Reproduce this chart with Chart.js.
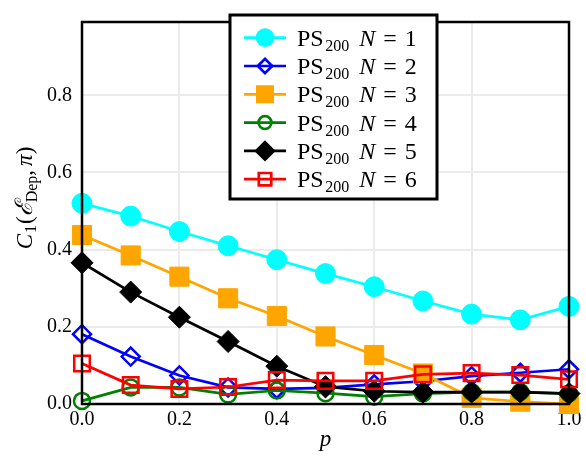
<!DOCTYPE html>
<html>
<head>
<meta charset="utf-8">
<script src="https://cdn.jsdelivr.net/npm/chart.js@4.4.0/dist/chart.umd.min.js"></script>
<style>
  body { margin: 0; background: #fff; }
  #wrap { width: 586px; height: 456px; }
</style>
</head>
<body>
<div id="wrap"><canvas id="chart" width="586" height="456"></canvas></div>
<script>
// values
const pValues = [0.0, 0.1, 0.2, 0.3, 0.4, 0.5, 0.6, 0.7, 0.8, 0.9, 1.0];
const n1 = [0.520, 0.487, 0.447, 0.410, 0.374, 0.338, 0.304, 0.267, 0.233, 0.218, 0.253];
const n2 = [0.181, 0.123, 0.074, 0.043, 0.039, 0.042, 0.051, 0.059, 0.072, 0.081, 0.090];
const n3 = [0.438, 0.385, 0.330, 0.274, 0.228, 0.175, 0.127, 0.079, 0.016, 0.006, 0.000];
const n4 = [0.008, 0.043, 0.043, 0.025, 0.035, 0.028, 0.019, 0.027, 0.031, 0.031, 0.027];
const n5 = [0.366, 0.290, 0.225, 0.162, 0.098, 0.045, 0.033, 0.031, 0.031, 0.031, 0.027];
const n6 = [0.105, 0.049, 0.039, 0.044, 0.062, 0.060, 0.060, 0.077, 0.080, 0.075, 0.064];
const seriesNames = ["1", "2", "3", "4", "5", "6"];
const xTicks = [0, 0.2, 0.4, 0.6, 0.8, 1.0];
const yTicks = [0, 0.2, 0.4, 0.6, 0.8];

const SERIF = '"Liberation Serif", "DejaVu Serif", serif';

// marker look per series
const styles = [
  { color: "#00ffff", point: "circle", radius: 10, fill: true },
  { color: "#0000ff", point: "rectRot", radius: 9, fill: false },
  { color: "#ffa500", point: "rect", radius: 13.5, fill: true },
  { color: "#008000", point: "circle", radius: 8, fill: false },
  { color: "#000000", point: "rectRot", radius: 11, fill: true },
  { color: "#ff0000", point: "rect", radius: 11, fill: false }
];

const allSeries = [n1, n2, n3, n4, n5, n6];

function makeDataset(values, i) {
  let s = styles[i];
  return {
    label: "PS200 N = " + seriesNames[i],
    data: values.map((v, k) => ({ x: pValues[k], y: v })),
    borderColor: s.color,
    borderWidth: 2.7,
    pointStyle: s.point,
    pointRadius: s.radius,
    pointHoverRadius: s.radius,
    pointBackgroundColor: s.fill ? s.color : "rgba(0,0,0,0)",
    pointBorderColor: s.color,
    pointBorderWidth: s.fill ? 1 : 2.5,
    fill: false,
    tension: 0,
    clip: false,
    order: 5 - i
  };
}

// draw a run of text pieces: [text, font, baselineShift, extraGap]
function drawRun(ctx, pieces, x, y) {
  let cx = x;
  for (let p of pieces) {
    ctx.font = p[1];
    ctx.fillText(p[0], cx, y + (p[2] || 0));
    cx += ctx.measureText(p[0]).width + (p[3] || 0);
  }
  return cx;
}

function runWidth(ctx, pieces) {
  let w = 0;
  for (let p of pieces) {
    ctx.font = p[1];
    w += ctx.measureText(p[0]).width + (p[3] || 0);
  }
  return w;
}

const decorPlugin = {
  id: "decor",
  afterDatasetsDraw(chart) {
    let ctx = chart.ctx;
    let a = chart.chartArea;
    ctx.save();

    // frame around the plot
    ctx.strokeStyle = "#000";
    ctx.lineWidth = 2.5;
    ctx.strokeRect(a.left, a.top, a.right - a.left, a.bottom - a.top);

    // legend box
    let bx = 230, by = 15, bw = 207, bh = 184;
    ctx.fillStyle = "#fff";
    ctx.fillRect(bx, by, bw, bh);
    ctx.lineWidth = 3;
    ctx.strokeStyle = "#000";
    ctx.strokeRect(bx, by, bw, bh);

    ctx.textAlign = "left";
    ctx.textBaseline = "alphabetic";
    for (let i = 0; i < styles.length; i++) {
      let s = styles[i];
      let cy = 37.7 + i * 28.3;
      ctx.strokeStyle = s.color;
      ctx.lineWidth = 2.7;
      ctx.beginPath();
      ctx.moveTo(244, cy);
      ctx.lineTo(286, cy);
      ctx.stroke();
      ctx.fillStyle = s.fill ? s.color : "rgba(0,0,0,0)";
      Chart.helpers.drawPoint(ctx, {
        pointStyle: s.point,
        radius: s.radius * 0.8,
        rotation: 0,
        borderWidth: s.fill ? 1 : 2.5
      }, 265, cy);

      ctx.fillStyle = "#000";
      let main = "24px " + SERIF;
      let pieces = [
        ["PS", main, 0, 1.5],
        ["200", "16px " + SERIF, 5, 10],
        ["N", "italic 24px " + SERIF, 0, 8],
        ["=", main, 0, 8],
        [seriesNames[i], main, 0]
      ];
      drawRun(ctx, pieces, 297, cy + 8);
    }

    // x axis title
    ctx.fillStyle = "#000";
    ctx.font = "italic 23px " + SERIF;
    ctx.textAlign = "center";
    ctx.fillText("p", (a.left + a.right) / 2, 446);

    // y axis title, rotated
    let big = "23px " + SERIF;
    let bigIt = "italic 23px " + SERIF;
    let small = "16px " + SERIF;
    let pieces = [
      ["C", bigIt, 0, 1],
      ["1", small, 4, 1],
      ["(", big, 0],
      ["\u2130", "italic 24px \"DejaVu Serif\", serif", 0],
      ["Dep", small, 5],
      [",", big, 0, 4],
      ["\u03c0", bigIt, 0],
      [")", big, 0]
    ];
    ctx.textAlign = "left";
    ctx.translate(32, 198);
    ctx.rotate(-Math.PI / 2);
    let w = runWidth(ctx, pieces);
    drawRun(ctx, pieces, -w / 2, 0);

    ctx.restore();
  }
};

let ctx = document.getElementById("chart").getContext("2d");
let myChart = new Chart(ctx, {
  type: "line",
  data: {
    datasets: allSeries.map(makeDataset)
  },
  options: {
    responsive: false,
    animation: false,
    layout: { padding: { left: 0, right: 17, top: 10, bottom: 0 } },
    plugins: {
      legend: { display: false },
      tooltip: { enabled: false }
    },
    scales: {
      x: {
        type: "linear",
        min: 0,
        max: 1,
        afterFit: scale => { scale.height = 52; },
        afterBuildTicks: scale => { scale.ticks = xTicks.map(v => ({ value: v })); },
        border: { display: false },
        grid: { color: "#ebebeb", lineWidth: 2, drawTicks: false },
        ticks: {
          padding: 4,
          color: "#000",
          font: { family: SERIF, size: 20 },
          callback: v => v.toFixed(1)
        }
      },
      y: {
        type: "linear",
        min: 0,
        max: 0.99,
        afterFit: scale => { scale.width = 82; },
        afterBuildTicks: scale => { scale.ticks = yTicks.map(v => ({ value: v })); },
        border: { display: false },
        grid: { color: "#ebebeb", lineWidth: 2, drawTicks: false },
        ticks: {
          padding: 10,
          color: "#000",
          font: { family: SERIF, size: 20 },
          callback: v => v.toFixed(1)
        }
      }
    }
  },
  plugins: [decorPlugin]
});
</script>
</body>
</html>
